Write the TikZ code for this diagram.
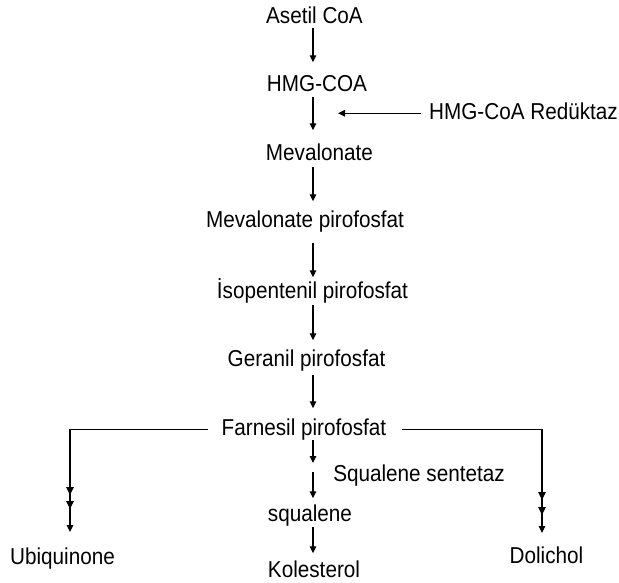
\documentclass[tikz,border=0pt]{standalone}
\usepackage{fontspec}
\usepackage{tikz}
\usetikzlibrary{arrows.meta,decorations.markings}
\newfontfamily\diafont{Liberation Sans}[FakeStretch=0.9]

\begin{document}
\begin{tikzpicture}[x=1pt, y=-1pt, >={Triangle[length=7pt,width=6.5pt]},
  compound/.style={inner sep=0pt, text height=16.5pt, text depth=5pt,
    anchor=base, font=\diafont\fontsize{23}{27}\selectfont},
  flow/.style={->, line width=1.2pt},
  branch/.style 2 args={->, line width=1.2pt, postaction={decorate},
    decoration={markings,
      mark=at position #1 with {\arrow{Triangle[length=8pt,width=7.5pt]}},
      mark=at position #2 with {\arrow{Triangle[length=8pt,width=7.5pt]}}}}]

  %% ── Page frame ──────────────────────────────────────────────────
  \fill[white] (0,0) rectangle (619,582);
  \useasboundingbox (0,0) rectangle (619,582);

  %% ── Main chain ──────────────────────────────────────────────────
  \node[compound] (ase)  at (314.5,23)  {Asetil CoA};
  \node[compound] (hmg)  at (317,91)    {HMG-COA};
  \node[compound] (mev)  at (319.5,160) {Mevalonate};
  \node[compound] (mevp) at (305,227)   {Mevalonate pirofosfat};
  \node[compound] (isop) at (312.5,298) {İsopentenil pirofosfat};
  \node[compound] (ger)  at (306.5,366) {Geranil pirofosfat};
  \node[compound] (farn) at (304,435)   {Farnesil pirofosfat};
  \node[compound] (squa) at (310,521)   {squalene};
  \node[compound] (kol)  at (314,577)   {Kolesterol};

  %% ── Side products ───────────────────────────────────────────────
  \node[compound] (ubi) at (62.5,564) {Ubiquinone};
  \node[compound] (dol) at (546.5,563) {Dolichol};

  %% ── Enzymes ─────────────────────────────────────────────────────
  \node[compound, anchor=base east] (red) at (618,119) {HMG-CoA Redüktaz};
  \node[compound] (syn) at (419,481) {Squalene sentetaz};

  %% ── Helper points ───────────────────────────────────────────────
  \coordinate (axis)   at (313,0);
  \coordinate (gap)    at (313,467);
  \coordinate (redtip) at (338,0);
  \coordinate (ubiend) at (70,532);
  \coordinate (dolend) at (542,533);

  %% ── Chain arrows ────────────────────────────────────────────────
  \foreach \a/\b/\s/\e in {ase/hmg/0/12, hmg/mev/1/13, mev/mevp/2/9,
      mevp/isop/11/4, isop/ger/2/9, ger/farn/4/10, squa/kol/1/7}{
    \draw[flow, shorten <=\s pt, shorten >=\e pt]
      (\a.south -| axis) -- (\b.north -| axis);
  }
  \draw[flow, shorten >=4pt] (farn.south -| axis) -- (gap);
  \draw[flow, shorten <=5pt, shorten >=6pt] (gap) -- (squa.north -| axis);

  %% ── Reductase arrow ─────────────────────────────────────────────
  \draw[flow, shorten <=8pt] (red.west) -- (red.west -| redtip);

  %% ── Branches ────────────────────────────────────────────────────
  \draw[branch={-37pt}{-23pt}, shorten <=14pt] (farn.west) -| (ubiend);
  \draw[branch={-33pt}{-18pt}, shorten <=16pt] (farn.east) -| (dolend);

\end{tikzpicture}
\end{document}
